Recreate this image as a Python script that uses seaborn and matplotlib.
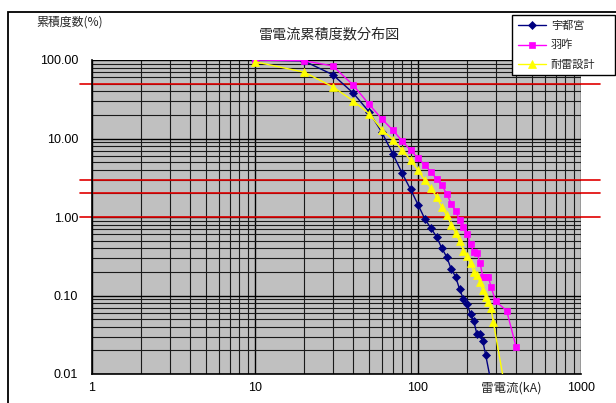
import matplotlib
matplotlib.use('Agg')
import matplotlib.pyplot as plt
import seaborn as sns
import numpy as np
import pandas as pd
from matplotlib.ticker import LogLocator, NullFormatter, FuncFormatter, FixedLocator
from matplotlib.patches import Rectangle

# ---- data ----
utsunomiya_kA = [10, 20, 30, 40, 50, 60, 70, 80, 90, 100, 110, 120, 130, 140, 150,
                 160, 170, 180, 190, 200, 210, 220, 230, 240, 250, 260, 280]
utsunomiya_pct = [100, 97, 65, 38, 22, 12, 6.4, 3.6, 2.25, 1.44, 0.95, 0.72, 0.56, 0.40, 0.31,
                  0.216, 0.174, 0.12, 0.09, 0.078, 0.058, 0.047, 0.032, 0.032, 0.026, 0.0176, 0.008]

hakui_kA = [10, 20, 30, 40, 50, 60, 70, 80, 90, 100, 110, 120, 130, 140, 150, 160,
            170, 180, 190, 200, 210, 220, 230, 240, 250, 260, 270, 280, 300, 350, 400]
hakui_pct = [100, 98, 84, 48, 27.4, 17.8, 12.8, 9.3, 7.1, 5.6, 4.6, 3.75, 3.08, 2.56, 1.96, 1.48,
             1.18, 0.92, 0.74, 0.61, 0.45, 0.355, 0.35, 0.26, 0.174, 0.174, 0.174, 0.13, 0.084, 0.064, 0.022]

design_kA = [10, 20, 30, 40, 50, 60, 70, 80, 90, 100, 110, 120, 130, 140, 150, 160,
             170, 180, 190, 200, 210, 220, 230, 240, 250, 260, 270, 280, 290, 350]
design_pct = [95, 70, 45.6, 30.2, 20.8, 13, 9.7, 7.1, 5.3, 3.94, 2.95, 2.33, 1.8, 1.34, 1.05, 0.8,
              0.63, 0.49, 0.374, 0.32, 0.26, 0.2, 0.18, 0.148, 0.116, 0.095, 0.082, 0.07, 0.0455, 0.005]

series_names = ['宇都宮', '羽咋', '耐雷設計']
red_levels = [50, 3, 2, 1]
x_ticks = [1, 10, 100, 1000]
y_ticks = [0.01, 0.1, 1, 10, 100]

title = '雷電流累積度数分布図'
ylabel = '累積度数(%)'
xlabel = '雷電流(kA)'

# ---- style ----
sns.set_style('white')
plt.rcParams['font.family'] = ['Noto Sans CJK JP', 'DejaVu Sans']

W, H = 616, 403
fig = plt.figure(figsize=(W / 100, H / 100), dpi=100)
L, R, T, B = 92, 581, 60, 374
ax = fig.add_axes([L / W, 1 - B / H, (R - L) / W, (B - T) / H])
ax.set_facecolor('#C0C0C0')
ax.set_xscale('log')
ax.set_yscale('log')

ax.grid(which='major', color='black', lw=1.0)
ax.grid(which='minor', color='#1a1a1a', lw=0.8)
ax.set_axisbelow(True)

styles = [
    dict(color='#000080', marker='D', markersize=3.6),
    dict(color='#FF00FF', marker='s', markersize=4.8),
    dict(color='#FFFF00', marker='^', markersize=5.2),
]
data = [(utsunomiya_kA, utsunomiya_pct), (hakui_kA, hakui_pct), (design_kA, design_pct)]
for (xs, ys), name, st in zip(data, series_names, styles):
    df = pd.DataFrame({'kA': xs, 'pct': ys})
    sns.lineplot(data=df, x='kA', y='pct', ax=ax, color=st['color'], marker=st['marker'],
                 markersize=st['markersize'], markeredgecolor=st['color'], markeredgewidth=0.5,
                 lw=1.0, label=name, estimator=None, sort=False, zorder=3)

ax.set_xlim(1, 1000)
ax.set_ylim(0.01, 100)

ax.xaxis.set_major_locator(FixedLocator(x_ticks))
ax.xaxis.set_major_formatter(FuncFormatter(lambda v, p: f'{v:g}'))
ax.xaxis.set_minor_locator(LogLocator(base=10, subs=range(2, 10)))
ax.xaxis.set_minor_formatter(NullFormatter())
ax.yaxis.set_major_locator(FixedLocator(y_ticks))
ax.yaxis.set_major_formatter(FuncFormatter(lambda v, p: f'{v:.2f}'))
ax.yaxis.set_minor_locator(LogLocator(base=10, subs=range(2, 10)))
ax.yaxis.set_minor_formatter(NullFormatter())
ax.tick_params(axis='both', which='both', direction='in', length=3, color='black',
               labelsize=9, labelcolor='black')
ax.tick_params(axis='x', pad=6)
ax.tick_params(axis='y', pad=10)
for lab in ax.get_xticklabels() + ax.get_yticklabels():
    lab.set_fontfamily(['Liberation Sans', 'DejaVu Sans'])
ax.set_xlabel('')
ax.set_ylabel('')

for s in ['top', 'right']:
    ax.spines[s].set_visible(False)
for s in ['left', 'bottom']:
    ax.spines[s].set_color('black')
    ax.spines[s].set_linewidth(1.2)

for v in red_levels:
    ax.plot([-0.025, 1.039], [v, v], transform=ax.get_yaxis_transform(),
            color='#E00000', lw=1.2, clip_on=False, zorder=2.5)

handles, labels = ax.get_legend_handles_labels()
if ax.legend_:
    ax.legend_.remove()
leg = fig.legend(handles, labels, loc='upper left',
                 bbox_to_anchor=(512 / W, 1 - 77 / H, 103 / W, 62 / H), mode='expand',
                 borderaxespad=0, frameon=True, fancybox=False, edgecolor='black', framealpha=1,
                 fontsize=8, handlelength=2.6, labelspacing=0.8, borderpad=0.5,
                 handletextpad=0.4)
leg.get_frame().set_linewidth(1.0)

fig.text(330 / W, 1 - 35 / H, title, ha='center', va='center', fontsize=10.2)
fig.text(36 / W, 1 - 22 / H, ylabel, ha='left', va='center', fontsize=8.6)
fig.text(481 / W, 1 - 388 / H, xlabel, ha='left', va='center', fontsize=9)

fig.patches.append(Rectangle((8 / W, -0.1), 1.2, 1 - 12 / H + 0.1, transform=fig.transFigure,
                             fill=False, edgecolor='black', lw=1.3))

fig.savefig('out.png', dpi=100)
